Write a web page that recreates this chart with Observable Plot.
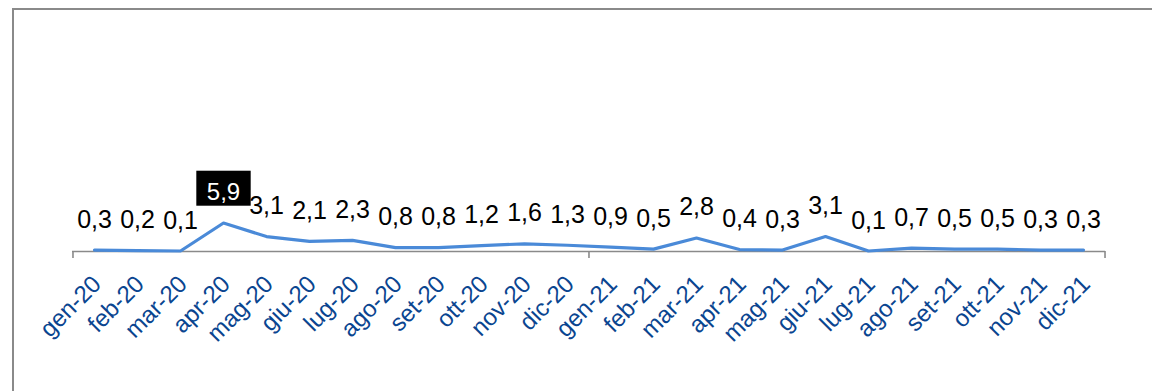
<!DOCTYPE html>
<html>
<head>
<meta charset="utf-8">
<script src="https://cdn.jsdelivr.net/npm/d3@7"></script>
<script src="https://cdn.jsdelivr.net/npm/@observablehq/plot@0.6"></script>
<style>
  html, body { margin: 0; padding: 0; background: #fff; }
  #wrap { position: relative; width: 1152px; height: 391px; overflow: hidden; }
  #border { position: absolute; left: 12px; top: 8px; width: 1200px; height: 500px;
            border-top: 2.5px solid #8a8a8a; border-left: 2.5px solid #8a8a8a; box-sizing: border-box; }
  #chart { position: absolute; left: 0; top: 0; }
</style>
</head>
<body>
<div id="wrap"><div id="border"></div><div id="chart"></div></div>
<script>
const months = ["gen-20","feb-20","mar-20","apr-20","mag-20","giu-20","lug-20","ago-20","set-20","ott-20","nov-20","dic-20",
                "gen-21","feb-21","mar-21","apr-21","mag-21","giu-21","lug-21","ago-21","set-21","ott-21","nov-21","dic-21"];
const values = [0.3,0.2,0.1,5.9,3.1,2.1,2.3,0.8,0.8,1.2,1.6,1.3,
                0.9,0.5,2.8,0.4,0.3,3.1,0.1,0.7,0.5,0.5,0.3,0.3];
const highlighted = ["apr-20"];
const boundaryTicksLeft = ["gen-20","gen-21"];
const boundaryTicksRight = ["dic-21"];

const data = months.map((m, i) => ({month: m, value: values[i]}));
const fmt = v => v.toFixed(1).replace(".", ",");

const W = 1152, H = 391, mL = 72, mR = 47;
const halfStep = (W - mL - mR) / months.length / 2;
const font = "'Liberation Sans', Arial, sans-serif";
const HL_FILL = "#fffffe";

const chart = Plot.plot({
  width: W, height: H,
  marginLeft: mL, marginRight: mR, marginTop: 58, marginBottom: 140,
  style: {fontFamily: font, background: "transparent"},
  x: {type: "point", domain: months, padding: 0.5, axis: null},
  y: {domain: [0, 40], axis: null},
  marks: [
    Plot.ruleY([0], {stroke: "#8a8a8a", strokeWidth: 1.6}),
    Plot.axisX({ticks: boundaryTicksLeft, tickSize: 7, tickFormat: () => "", dx: -halfStep, stroke: "#8a8a8a", strokeWidth: 1.6, label: null}),
    Plot.axisX({ticks: boundaryTicksRight, tickSize: 7, tickFormat: () => "", dx: halfStep, stroke: "#8a8a8a", strokeWidth: 1.6, label: null}),
    Plot.text(months, {x: d => d, frameAnchor: "bottom", rotate: -45, textAnchor: "end", lineAnchor: "top",
                       dx: -4, dy: 22, fontSize: 24, fill: "#0a4590"}),
    Plot.line(data, {x: "month", y: "value", stroke: "#4a8ad8", strokeWidth: 3.2}),
    Plot.text(data.filter(d => !highlighted.includes(d.month)), {x: "month", y: "value", text: d => fmt(d.value), dy: -30.5, fontSize: 25, fill: "#000"}),
    Plot.text(data.filter(d => highlighted.includes(d.month)), {x: "month", y: "value", text: d => fmt(d.value), dy: -31, fontSize: 24, fill: HL_FILL})
  ]
});
document.getElementById("chart").appendChild(chart);

// black box behind the highlighted label
chart.querySelectorAll(`g[fill="${HL_FILL}"] text`).forEach(t => {
  const b = t.getBBox();
  const padX = 10.5, padTop = 7, padBottom = 1;
  const rect = document.createElementNS("http://www.w3.org/2000/svg", "rect");
  rect.setAttribute("x", b.x - padX);
  rect.setAttribute("y", b.y - padTop);
  rect.setAttribute("width", b.width + 2 * padX);
  rect.setAttribute("height", b.height + padTop + padBottom);
  rect.setAttribute("fill", "#000");
  const tr = t.getAttribute("transform");
  if (tr) rect.setAttribute("transform", tr);
  t.parentNode.insertBefore(rect, t);
});
</script>
</body>
</html>
